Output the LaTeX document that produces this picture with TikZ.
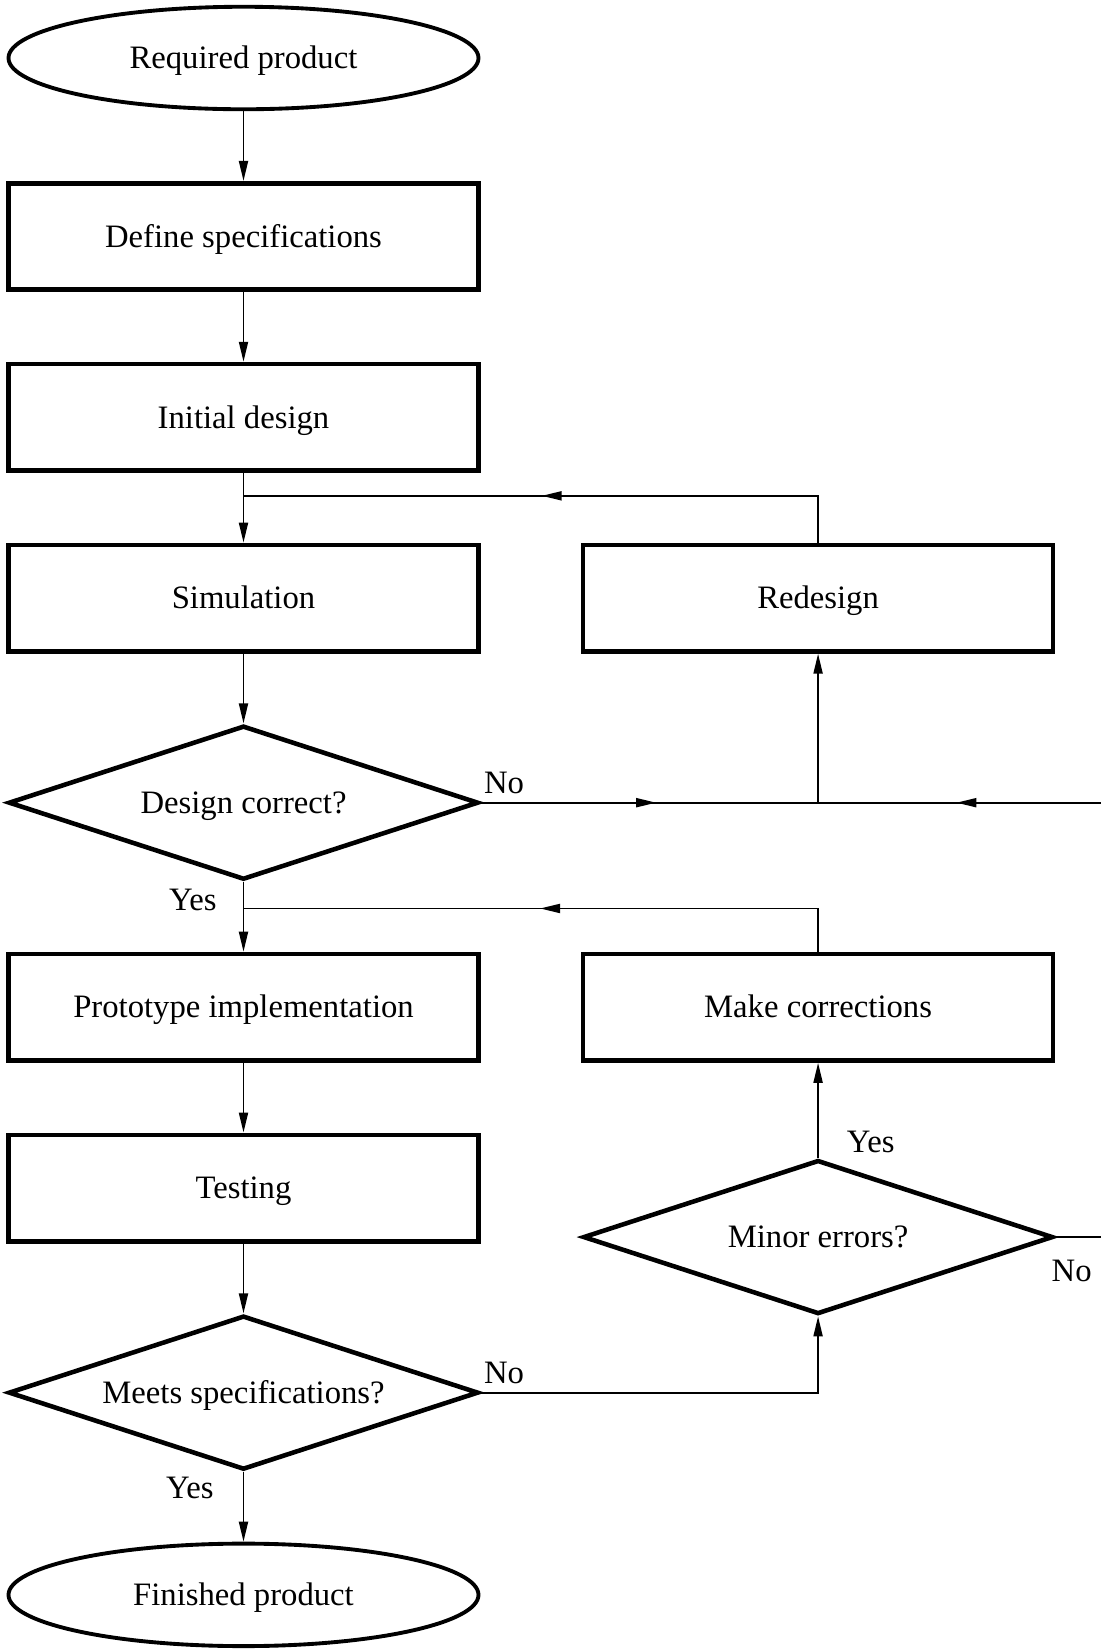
\documentclass[tikz,border=0pt]{standalone}
\usepackage{fontspec}
\setmainfont{Liberation Serif}
\usetikzlibrary{positioning, arrows.meta, shapes.geometric, calc, decorations.markings}

\begin{document}
\begin{tikzpicture}[
    % Node styles
    process/.style={
        rectangle,
        draw=black,
        line width=2.6pt,
        minimum width=9.4cm,
        minimum height=2.13cm,
        align=center,
        text height=12.2pt,
        text depth=0pt,
        font=\fontsize{18.6}{22}\selectfont
    },
    terminal/.style={
        ellipse,
        draw=black,
        line width=2.2pt,
        minimum width=9.4cm,
        minimum height=2.05cm,
        inner sep=0pt,
        text height=12.2pt,
        text depth=0pt,
        font=\fontsize{18.6}{22}\selectfont
    },
    decision/.style={
        diamond,
        aspect=3,
        draw=black,
        line width=2.6pt,
        minimum width=9.4cm,
        minimum height=3.08cm,
        inner sep=0pt,
        text height=12.2pt,
        text depth=0pt,
        font=\fontsize{18.6}{22}\selectfont
    },
    arrow/.style={
        -{Triangle[length=4mm, width=1.8mm]},
        line width=1.1pt
    },
    link/.style={
        line width=1.1pt
    },
    midarrow/.style={
        postaction={decorate},
        decoration={markings, mark=at position #1 with {\arrow{Triangle[length=4mm, width=1.8mm]}}}
    },
    branch/.style={
        inner sep=0pt,
        font=\fontsize{18.6}{22}\selectfont
    },
    node distance=1.395cm and 2cm
]

\useasboundingbox (0,0) rectangle (22.02,-33.04);

% Main column
\node[terminal] (start) at (4.87,-1.16) {Required product};
\node[process, below=of start] (specs) {Define specifications};
\node[process, below=of specs] (initial) {Initial design};
\node[process, below=of initial] (sim) {Simulation};
\node[decision, below=of sim] (design) {Design correct?};
\node[process, below=of design] (proto) {Prototype implementation};
\node[process, below=of proto] (testing) {Testing};
\node[decision, below=of testing] (meets) {Meets specifications?};
\node[terminal, below=of meets] (finish) {Finished product};

% Side column
\node[process, right=of sim] (redesign) {Redesign};
\node[process, right=of proto] (fix) {Make corrections};
\node[decision, below=1.9cm of fix] (minor) {Minor errors?};

% Join points
\coordinate (back1) at ($(initial.south)+(0,-0.46)$);
\coordinate (back2) at ($(design.south)+(0,-0.53)$);
\coordinate (nojoin) at (redesign.south |- design.east);

% Main flow
\draw[arrow] (start) -- (specs);
\draw[arrow] (specs) -- (initial);
\draw[arrow] (initial) -- (sim);
\draw[arrow] (sim) -- (design);
\draw[arrow] (design) -- (proto);
\draw[arrow] (proto) -- (testing);
\draw[arrow] (testing) -- (meets);
\draw[arrow] (meets) -- (finish);

% Loops back
\draw[link, midarrow=0.52] (redesign.north) |- (back1);
\draw[link, midarrow=0.52] (fix.north) |- (back2);
\draw[link, midarrow=0.52] (design.east) -- (nojoin);
\draw[arrow] (nojoin) -- (redesign.south);
\draw[link, midarrow=0.82] (minor.east) -- ++(0.97,0) |- (nojoin);
\draw[arrow] (meets.east) -| (minor.south);
\draw[arrow] (minor.north) -- (fix.south);

% Branch labels
\node[branch, above right=0.17cm and 0.06cm of design.east] {No};
\node[branch, below left=0.13cm and 0.53cm of design.south] {Yes};
\node[branch, above right=0.17cm and 0.06cm of meets.east] {No};
\node[branch, below left=0.1cm and 0.59cm of meets.south] {Yes};
\node[branch, above right=0.1cm and 0.57cm of minor.north] {Yes};
\node[branch, below right=0.46cm and -0.08cm of minor.east] {No};

\end{tikzpicture}
\end{document}
